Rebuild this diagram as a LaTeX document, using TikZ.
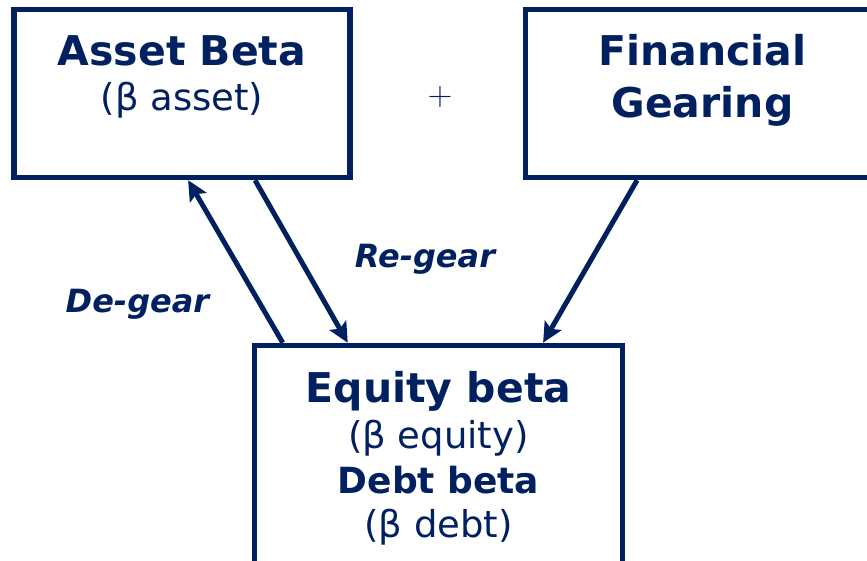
\documentclass[tikz,border=0pt]{standalone}
\usepackage{fontspec}
\setmainfont{DejaVu Sans}
\newfontfamily\lmplus{Latin Modern Roman}
\usetikzlibrary{arrows.meta,calc}
\definecolor{navy}{RGB}{0,32,96}
\begin{document}
\begin{tikzpicture}[x=1pt,y=-1pt,
  box/.style={draw=navy,line width=5.5pt,inner sep=0pt,outer sep=2.75pt,rectangle},
  title/.style={text=navy,font=\bfseries\fontsize{41pt}{49pt}\selectfont,anchor=base,inner sep=0pt},
  smalltitle/.style={text=navy,font=\bfseries\fontsize{36pt}{43pt}\selectfont,anchor=base,inner sep=0pt},
  sub/.style={text=navy,font=\fontsize{37pt}{44pt}\selectfont,anchor=base,inner sep=0pt},
  lab/.style={text=navy,font=\bfseries\itshape\fontsize{32pt}{38pt}\selectfont,anchor=base,inner sep=0pt},
  arr/.style={draw=navy,line width=5pt,-{Stealth[length=20pt,width=19pt,inset=4pt]}}]
\useasboundingbox (0,0) rectangle (867,560);
\clip (0,0) rectangle (867,560);
% boxes
\node[box,minimum width=336pt,minimum height=168pt] (asset) at (182,93.5) {};
\node[box,minimum width=354pt,minimum height=168pt] (fin) at (702.5,93.5) {};
\node[box,minimum width=368pt,minimum height=239.5pt] (eq) at (438.5,465.25) {};
% texts
\node[title] (assetT) at (182,65) {Asset Beta};
\node[sub] (assetS) at (182,110) {(β asset)};
\node[text=navy,font=\lmplus\fontsize{34pt}{40pt}\selectfont,inner sep=0pt] (plus) at (440,97) {+};
\node[title] (finA) at (702.5,65) {Financial};
\node[title] (finB) at (702.5,117) {Gearing};
\node[title] (eqT) at (438.5,402) {Equity beta};
\node[sub] (eqS) at (438.5,448) {(β equity)};
\node[smalltitle] (dbT) at (438.5,493) {Debt beta};
\node[sub] (dbS) at (438.5,537) {(β debt)};
\node[lab] (regear) at (425,267) {Re-gear};
\node[lab] (degear) at (137.5,312) {De-gear};
% arrows
\draw[arr] ($(eq.north west)!0.083!(eq.north east)$) -- ($(asset.south west)!0.518!(asset.south east)$);
\draw[arr] ($(asset.south west)!0.714!(asset.south east)$) -- ($(eq.north west)!0.257!(eq.north east)$);
\draw[arr] ($(fin.south west)!0.318!(fin.south east)$) -- ($(eq.north west)!0.780!(eq.north east)$);
\end{tikzpicture}
\end{document}
